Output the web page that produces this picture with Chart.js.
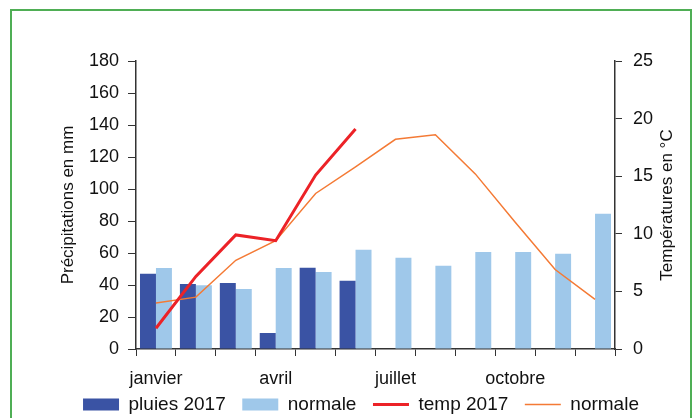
<!DOCTYPE html>
<html>
<head>
<meta charset="utf-8">
<script src="https://cdn.jsdelivr.net/npm/chart.js@4/dist/chart.umd.min.js"></script>
<style>
  html, body { margin: 0; padding: 0; background: #fff; overflow: hidden; }
  #wrap { position: relative; width: 696px; height: 418px; }
  #cadre {
    position: absolute; left: 10px; top: 9px; width: 682px; height: 430px;
    border: 2px solid #4fae55; box-sizing: border-box; pointer-events: none;
  }
  canvas { position: absolute; left: 0; top: 0; }
</style>
</head>
<body>
<div id="wrap">
  <canvas id="graficoClimat" width="696" height="418"></canvas>
  <div id="cadre"></div>
</div>
<script>
const mois = ['janvier', 'février', 'mars', 'avril', 'mai', 'juin',
  'juillet', 'août', 'septembre', 'octobre', 'novembre', 'décembre'];
const pluies2017 = [47, 40.6, 41.3, 10, 50.8, 42.6, null, null, null, null, null, null];
const pluiesNormale = [50.7, 39.8, 37.5, 50.7, 48.2, 62, 57, 52, 60.7, 60.7, 59.5, 84.5];
const temp2017 = [1.8, 6.3, 9.9, 9.4, 15.1, 19.1, null, null, null, null, null, null];
const tempNormale = [4.0, 4.5, 7.7, 9.4, 13.5, 15.8, 18.2, 18.6, 15.2, 11.0, 6.9, 4.3];
const ticksPluies = [0, 20, 40, 60, 80, 100, 120, 140, 160, 180];
const ticksTemp = [0, 5, 10, 15, 20, 25];
const titreTemp = 'Températures en °C';

Chart.defaults.font.family = "'Liberation Sans', Arial, sans-serif";
Chart.defaults.color = '#111';

// titre de l'axe de droite, écrit de bas en haut comme celui de gauche
const titreDroite = {
  id: 'titreDroite',
  afterDraw(chart) {
    const c = chart.ctx;
    const area = chart.chartArea;
    c.save();
    c.translate(667, (area.top + area.bottom) / 2);
    c.rotate(-Math.PI / 2);
    c.font = "17px 'Liberation Sans', Arial, sans-serif";
    c.fillStyle = '#111';
    c.textAlign = 'center';
    c.textBaseline = 'middle';
    c.fillText(titreTemp, 0, 0);
    c.restore();
  }
};

const ctx = document.getElementById('graficoClimat').getContext('2d');

const graficoClimat = new Chart(ctx, {
  type: 'bar',
  data: {
    labels: mois,
    datasets: [
      {
        label: 'pluies 2017',
        data: pluies2017,
        backgroundColor: '#3a53a4',
        borderWidth: 0,
        pointStyle: 'rect',
        yAxisID: 'y',
        order: 2
      },
      {
        label: 'normale',
        data: pluiesNormale,
        backgroundColor: '#9fc8ea',
        borderWidth: 0,
        pointStyle: 'rect',
        yAxisID: 'y',
        order: 2
      },
      {
        type: 'line',
        label: 'temp 2017',
        data: temp2017,
        borderColor: '#ec2227',
        backgroundColor: '#ec2227',
        borderWidth: 3,
        pointRadius: 0,
        pointStyle: 'line',
        tension: 0,
        yAxisID: 'y1',
        order: 0
      },
      {
        type: 'line',
        label: 'normale',
        data: tempNormale,
        borderColor: '#f47a35',
        backgroundColor: '#f47a35',
        borderWidth: 1.5,
        pointRadius: 0,
        pointStyle: 'line',
        tension: 0,
        yAxisID: 'y1',
        order: 1
      }
    ]
  },
  plugins: [titreDroite],
  options: {
    responsive: false,
    animation: false,
    layout: { padding: { top: 61, left: 52, right: 26, bottom: -6 } },
    datasets: {
      bar: { categoryPercentage: 0.8, barPercentage: 1.0 }
    },
    plugins: {
      tooltip: { enabled: false },
      legend: {
        position: 'bottom',
        labels: {
          usePointStyle: true,
          pointStyleWidth: 36,
          boxHeight: 12,
          padding: 6,
          font: { size: 19 },
          color: '#111',
          sort: (a, b) => a.datasetIndex - b.datasetIndex,
          generateLabels: (chart) => {
            const items = Chart.defaults.plugins.legend.labels.generateLabels(chart);
            const dernier = chart.data.datasets.length - 1;
            // un peu plus d'air entre les entrées, comme sur l'original
            items.forEach((it) => { if (it.datasetIndex < dernier) it.text += '  '; });
            return items;
          }
        }
      }
    },
    scales: {
      x: {
        grid: { display: true, drawOnChartArea: false, tickLength: 7, color: '#333', offset: true },
        border: { display: true, color: '#333', width: 1.5 },
        ticks: {
          autoSkip: false,
          maxRotation: 0,
          padding: 12,
          font: { size: 18 },
          callback: (v, i) => (i % 3 === 0 ? mois[i] : '')
        },
        afterFit: (axis) => { axis.height = 40; }
      },
      y: {
        position: 'left',
        min: 0,
        max: 180,
        afterBuildTicks: (axis) => { axis.ticks = ticksPluies.map(v => ({ value: v })); },
        grid: { display: true, drawOnChartArea: false, tickLength: 8, color: '#333' },
        border: { display: true, color: '#333', width: 1.5 },
        ticks: { padding: 9, font: { size: 18 } },
        title: {
          display: true,
          text: 'Précipitations en mm',
          font: { size: 17 },
          padding: { top: 6, bottom: 0 }
        },
        afterFit: (axis) => { axis.width = 84; }
      },
      y1: {
        position: 'right',
        min: 0,
        max: 25,
        afterBuildTicks: (axis) => { axis.ticks = ticksTemp.map(v => ({ value: v })); },
        grid: { display: true, drawOnChartArea: false, tickLength: 7, color: '#333' },
        border: { display: true, color: '#333', width: 1.5 },
        ticks: { padding: 11, font: { size: 18 } },
        afterFit: (axis) => { axis.width = 55; }
      }
    }
  }
});
</script>
</body>
</html>
